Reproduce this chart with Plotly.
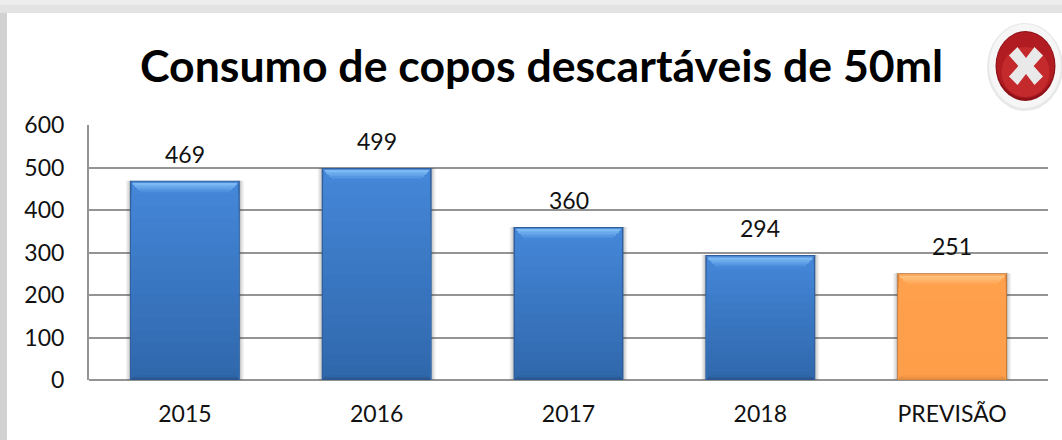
import plotly.graph_objects as go

categories = ["2015", "2016", "2017", "2018", "PREVISÃO"]
values = [469, 499, 360, 294, 251]
y_ticks = [0, 100, 200, 300, 400, 500, 600]
title_text = "Consumo de copos descartáveis de 50ml"

W, H = 1062, 440
L, R, T, B = 89, 14, 125, 60
PW, PH = W - L - R, H - T - B
U = 600 / PH  # data units per pixel


def mix(a, b, t):
    ca = [int(a[i:i + 2], 16) for i in (1, 3, 5)]
    cb = [int(b[i:i + 2], 16) for i in (1, 3, 5)]
    return "rgb(%d,%d,%d)" % tuple(round(x + (y - x) * t) for x, y in zip(ca, cb))


BLUE = dict(edge="#2F5F9C", rim="#4F8AD6", top="#7CBAF4", hi="#4486D8", lo="#3068AC", bottom="#28548C")
ORANGE = dict(edge="#C47A38", rim="#F9A55A", top="#FFC27E", hi="#FFA04C", lo="#FF9E4A", bottom="#DC883C")
pal = [BLUE, BLUE, BLUE, BLUE, ORANGE]
BW = 0.573
px_w = BW * PW / 5  # bar width in pixels
fig = go.Figure()


def wfrac(inset_px):
    return BW * (px_w - 2 * inset_px) / px_w


def add(heights, base, width, colors):
    fig.add_trace(go.Bar(x=categories, y=heights, base=base, width=width, cliponaxis=False,
                         marker=dict(color=colors, line=dict(width=0)),
                         hoverinfo="skip", showlegend=False))


# soft shadow around the bars
for grow, alpha in ((4, 0.07), (2.5, 0.10), (1, 0.14)):
    add([v + grow * U for v in values], [-grow * U for _ in values], wfrac(-grow), [f"rgba(60,60,60,{alpha})"] * 5)

# dark outer edge
add(values, [0] * 5, BW, [p["edge"] for p in pal])

# body gradient
N = 16
for i in range(N):
    t = i / (N - 1)
    add([(v - 1 * U) * (1 - i / N) for v in values], [0] * 5, wfrac(1.5),
        [mix(p["lo"], p["hi"], 1 - t) for p in pal])

# top bevel, stepped to form the mitred corners
TOP_STEPS = 8
STEP_H = 1.5
for i in range(TOP_STEPS):
    t = max(0, i - 1) / (TOP_STEPS - 2)
    colors = [p["rim"] if i == 0 else mix(p["top"], p["hi"], t) for p in pal]
    add([STEP_H * U] * 5, [v - U - (i + 1) * STEP_H * U for v in values], wfrac(1.5 + i * STEP_H), colors)

# bottom bevel
BOT_STEPS = 5
for i in range(BOT_STEPS):
    t = i / (BOT_STEPS - 1)
    add([1.3 * U] * 5, [i * 1.3 * U] * 5, wfrac(1.5 + i * 1.3),
        [mix(p["bottom"], p["lo"], t) for p in pal])

for i, v in enumerate(values):
    fig.add_annotation(x=i, y=v, text=str(v), showarrow=False, yshift=27, yanchor="middle",
                       font=dict(family="Lato", size=23, color="#111111"))


def px(x):
    return (x - L) / PW


def py(y):
    return (H - B - y) / PH


def rect(x0, y0, x1, y1, color, layer="below"):
    fig.add_shape(type="rect", xref="paper", yref="paper", x0=px(x0), x1=px(x1), y0=py(y0), y1=py(y1),
                  fillcolor=color, line_width=0, layer=layer)


def oval(cx, cy, rx, ry, color):
    fig.add_shape(type="circle", xref="paper", yref="paper", x0=px(cx - rx), x1=px(cx + rx),
                  y0=py(cy + ry), y1=py(cy - ry), fillcolor=color, line_width=0, layer="above")


# page frame
rect(0, 0, W, 13, "#E3E3E3")
rect(0, 0, W, 5, "#EDEDED")
rect(0, 13, 7, H, "#D2D2D2")

# stop icon
oval(1025, 67, 38, 44, "#E8E8E8")
oval(1025, 66, 36, 42, "#F6F6F6")
oval(1025.5, 66, 30, 35, "#8E1218")
oval(1025.5, 65, 29, 33, "#B01C22")
oval(1025.5, 72, 24, 25, "#C42A2C")
cx, cy, a, b = 1026, 66, 17, 19
pts = [(-1, -.55), (-.5, -1), (0, -.42), (.5, -1), (1, -.55), (.45, 0), (1, .55), (.5, 1), (0, .42), (-.5, 1), (-1, .55), (-.45, 0)]
path = "M " + " L ".join(f"{px(cx + a * X):.5f} {py(cy + b * Y):.5f}" for X, Y in pts) + " Z"
fig.add_shape(type="path", xref="paper", yref="paper", path=path, fillcolor="#E9E9E9", line_width=0, layer="above")

fig.add_annotation(xref="paper", yref="paper", x=px(541), y=py(65), text=f"<b>{title_text}</b>", showarrow=False,
                   xanchor="center", yanchor="middle", font=dict(family="Lato", size=44.6, color="#000000"))

fig.update_layout(
    width=W, height=H, margin=dict(l=L, r=R, t=T, b=B), autosize=False,
    paper_bgcolor="#FFFFFF", plot_bgcolor="#FFFFFF", barmode="overlay", showlegend=False,
    xaxis=dict(type="category", categoryorder="array", categoryarray=categories, range=[-0.5, 4.5], showgrid=False,
               showline=False, ticks="", tickfont=dict(family="Lato", size=23, color="#111111"), ticklen=0,
               ticklabelstandoff=18),
    yaxis=dict(range=[0, 600], tickvals=y_ticks, showgrid=True, gridcolor="#949494", gridwidth=2,
               zeroline=True, zerolinecolor="#949494", zerolinewidth=2, showline=True, linecolor="#949494", linewidth=2,
               ticks="", tickfont=dict(family="Lato", size=23, color="#111111"), ticklabelstandoff=18),
)

fig.write_html("out.html", config=dict(displayModeBar=False),
               post_script="document.body.style.margin='0';document.body.style.overflow='hidden';")
